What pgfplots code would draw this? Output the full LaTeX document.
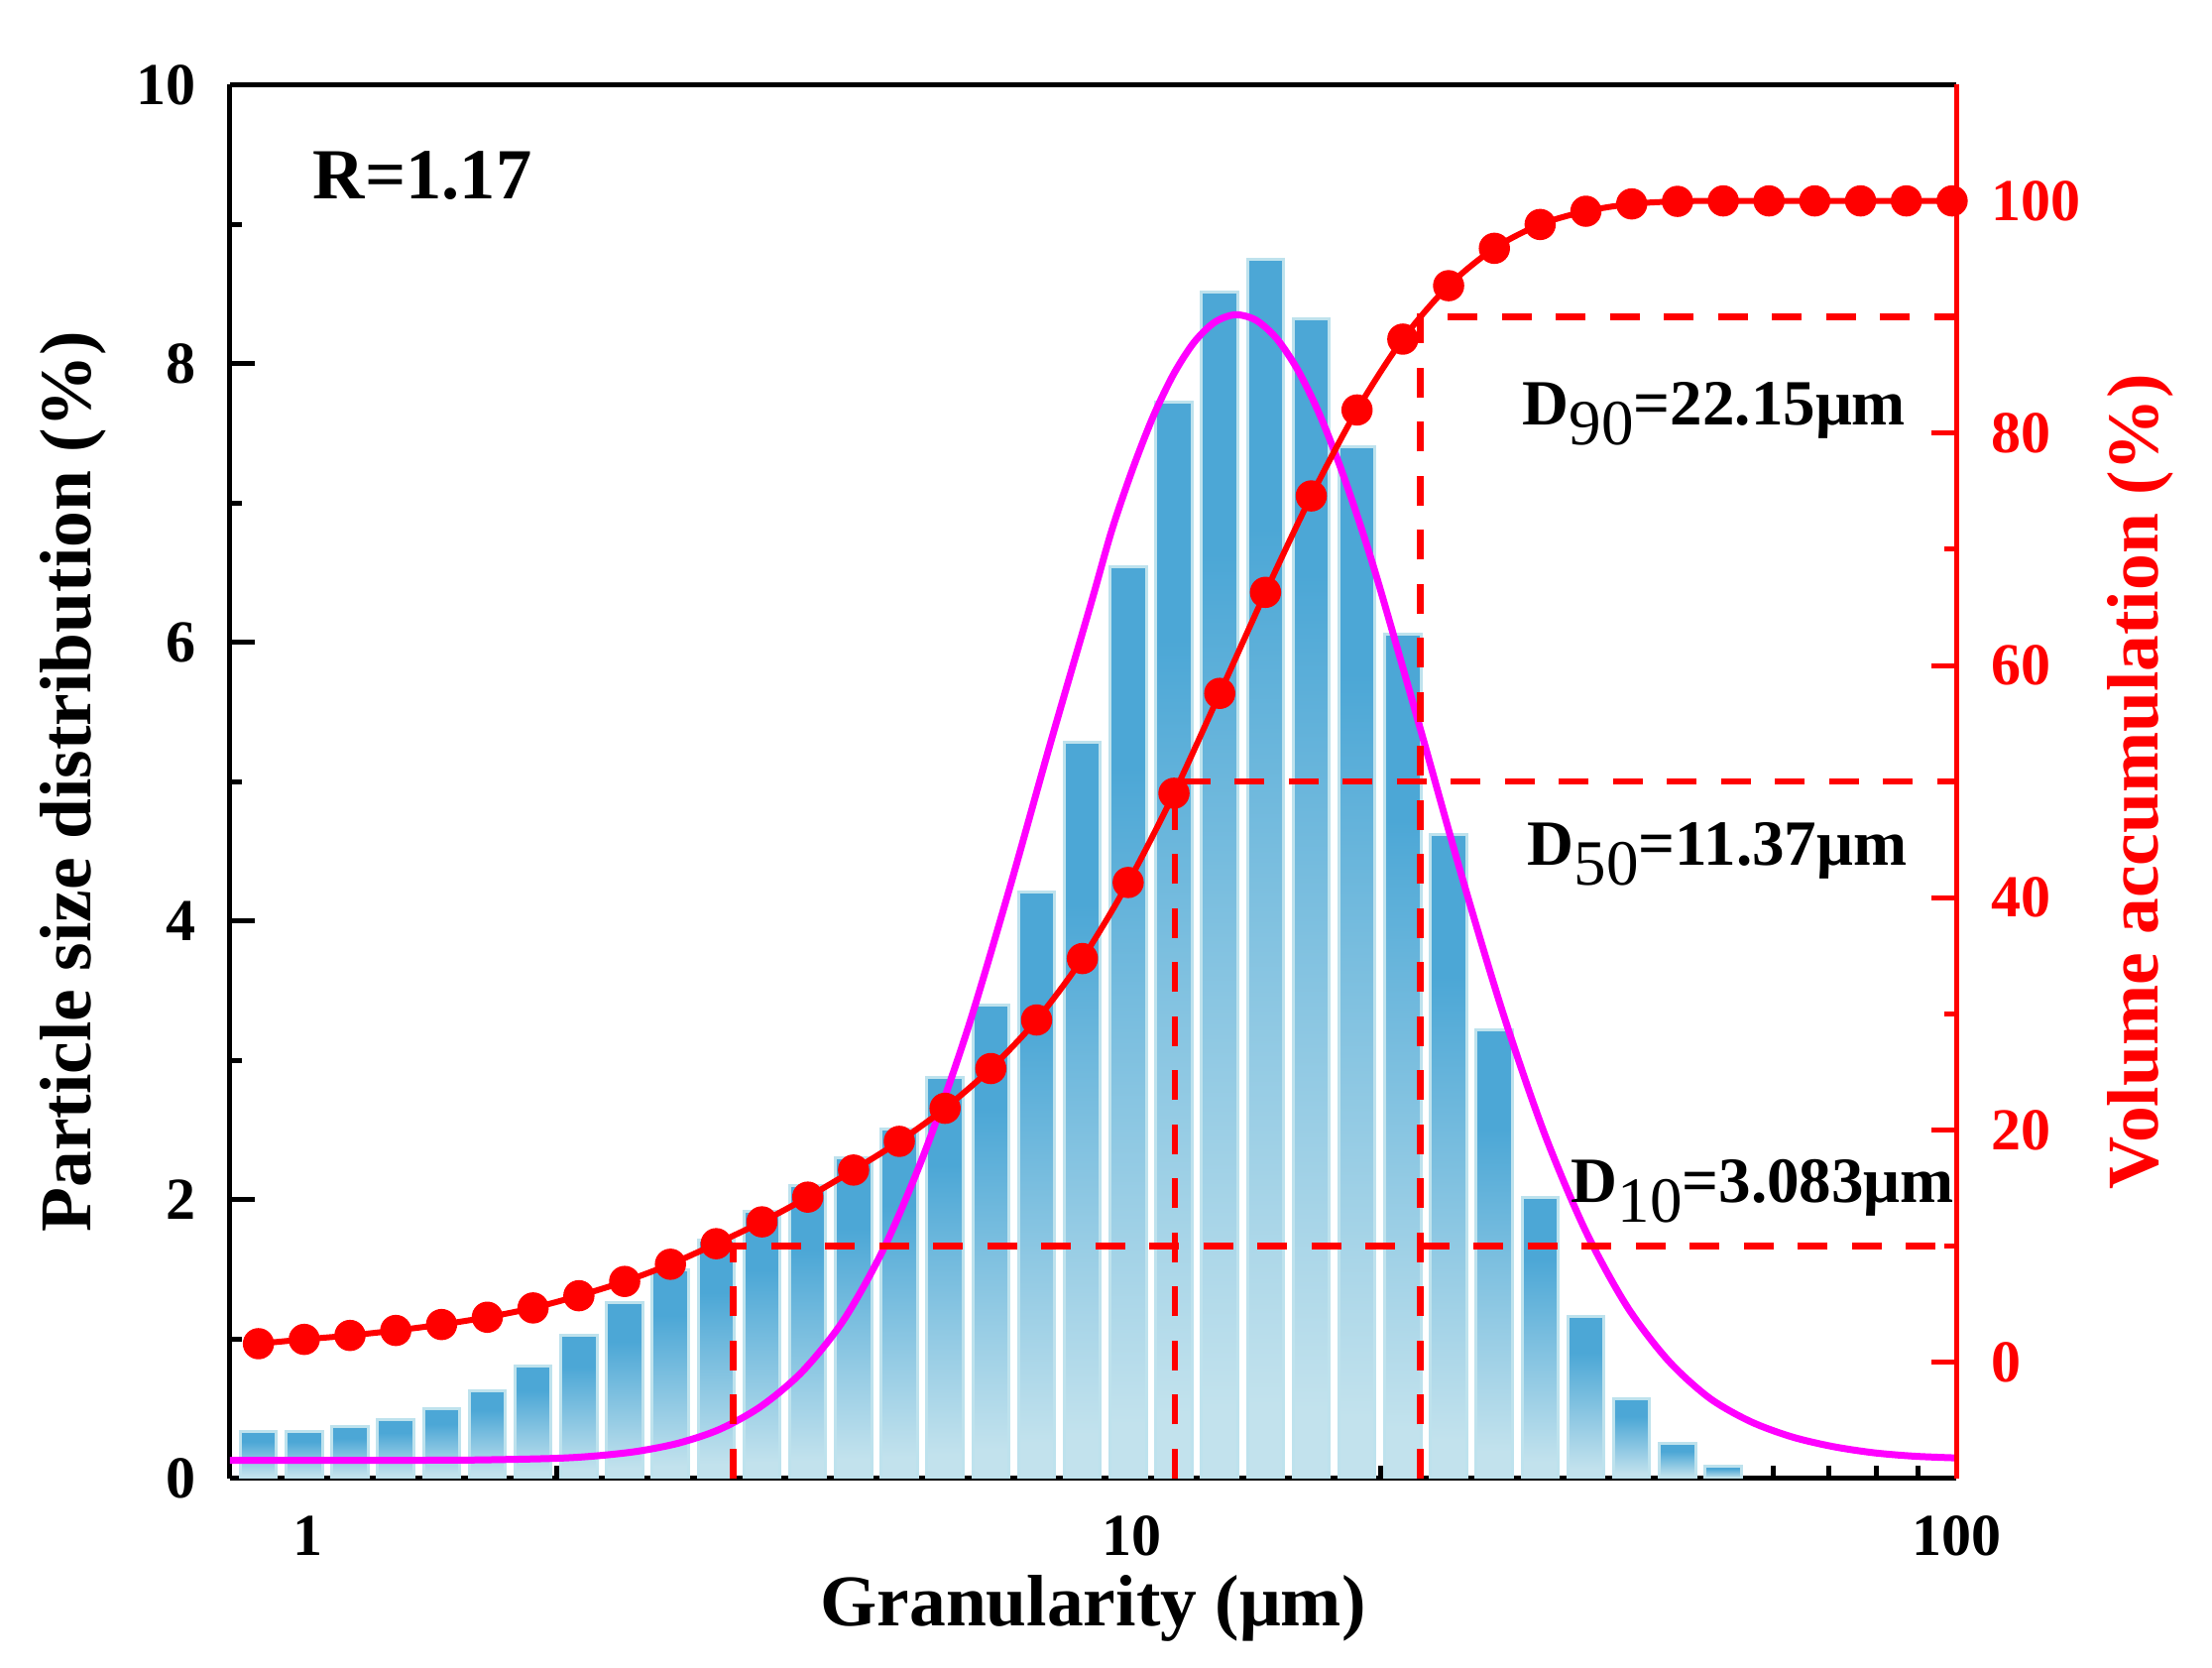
\documentclass[border=0pt]{standalone}
\usepackage{pgfplots}
\pgfplotsset{compat=1.18}
\usepackage{pgfplotstable}
\usepackage{fontspec}
\setmainfont{Liberation Serif}
\definecolor{barblue}{RGB}{76,167,214}
\definecolor{barlight}{RGB}{194,226,237}
\definecolor{barline}{RGB}{190,226,237}
\definecolor{magcurve}{RGB}{255,0,255}
\definecolor{cumred}{RGB}{255,0,0}
\pgfdeclareverticalshading{barshade}{100bp}{color(0bp)=(barlight); color(28bp)=(barlight); color(64bp)=(barblue); color(100bp)=(barblue)}

\pgfplotstableread{
x y
0.8700 0.34
0.9887 0.34
1.1236 0.37
1.2770 0.42
1.4512 0.50
1.6493 0.63
1.8744 0.81
2.1301 1.03
2.4208 1.26
2.7512 1.50
3.1266 1.71
3.5533 1.92
4.0382 2.10
4.5893 2.30
5.2155 2.51
5.9272 2.88
6.7361 3.40
7.6553 4.21
8.7000 5.28
9.8872 6.54
11.2365 7.72
12.770 8.51
14.512 8.75
16.493 8.32
18.744 7.40
21.301 6.06
24.208 4.62
27.512 3.22
31.266 2.02
35.533 1.16
40.382 0.57
45.893 0.25
52.155 0.09
}\bars

\pgfplotstableread{
x y
0.8700 1.61
0.9887 1.98
1.1236 2.32
1.2770 2.75
1.4512 3.26
1.6493 3.89
1.8744 4.69
2.1301 5.74
2.4208 6.97
2.7512 8.45
3.1266 10.22
3.5533 12.10
4.0382 14.23
4.5893 16.56
5.2155 19.03
5.9272 21.88
6.7361 25.30
7.6553 29.48
8.7000 34.77
9.8872 41.32
11.2365 49.00
12.770 57.60
14.512 66.30
16.493 74.60
18.744 82.00
21.301 88.10
24.208 92.70
27.512 95.92
31.266 97.97
35.533 99.11
40.382 99.74
45.893 99.96
52.155 100.0
59.272 100.0
67.361 100.0
76.553 100.0
87.000 100.0
98.872 100.0
}\cumul

\pgfplotstableread{
x y
0.8035 0.130
1.000 0.130
1.259 0.131
1.585 0.133
1.995 0.145
2.239 0.163
2.512 0.196
2.818 0.255
3.162 0.355
3.548 0.520
3.981 0.770
4.467 1.140
5.012 1.670
5.623 2.370
6.310 3.220
7.079 4.210
7.943 5.260
8.913 6.280
9.441 6.800
10.00 7.235
10.59 7.613
11.22 7.922
11.885 8.152
12.59 8.296
13.335 8.350
14.13 8.311
14.962 8.181
15.85 7.963
16.788 7.667
17.78 7.300
18.836 6.874
19.95 6.404
22.39 5.370
25.12 4.320
28.18 3.340
31.62 2.480
35.48 1.780
39.81 1.240
44.67 0.850
50.12 0.580
56.23 0.410
63.10 0.300
70.79 0.230
79.43 0.185
89.13 0.160
100.0 0.148
}\fitcurve

\begin{document}
\begin{tikzpicture}
\begin{axis}[name=ax, scale only axis, width=348.2pt, height=281.1pt,
  xmode=log, xmin=0.8035, xmax=100, ymin=0, ymax=10,
  axis x line*=box, axis y line*=left,
  x axis line style={-}, y axis line style={-},
  axis line style={line width=1pt, black},
  xtick={1,10,100}, xticklabels={1,10,100},
  minor xtick={0.9,2,3,4,5,6,7,8,9,20,30,40,50,60,70,80,90},
  ytick={0,2,4,6,8,10}, minor ytick={1,3,5,7,9},
  xtick pos=left, ytick pos=left,
  tick align=inside,
  major tick length=5pt, minor tick length=2.5pt,
  tick style={black, line width=1pt},
  tick label style={font=\bfseries\fontsize{12}{12}\selectfont},
  /pgf/number format/assume math mode=true,
  xticklabel style={inner sep=0pt, yshift=-7.4pt},
  yticklabel style={inner sep=0pt, xshift=-6.6pt},
  xlabel={Granularity (μm)},
  ylabel={Particle size distribution (\%)},
  label style={font=\bfseries\fontsize{14.7}{14.7}\selectfont},
  xlabel style={at={(rel axis cs:0.5,0)}, anchor=base, yshift=-29.8pt},
  ylabel style={at={([xshift=-28pt]rel axis cs:0,0.5)}, anchor=base},
]
\pgfplotsinvokeforeach{0,...,32}{
  \addplot[ybar, bar width=7.3pt, draw=barline, line width=0.6pt, shade, shading=barshade, forget plot]
    table[x=x,y=y, restrict expr to domain={\coordindex}{#1:#1}]{\bars};
}
\addplot[magcurve, line width=1.4pt, smooth, no marks] table[x=x,y=y]{\fitcurve};
\node[anchor=base west, inner sep=0pt, font=\bfseries\fontsize{14.5}{14.5}\selectfont] at (axis cs:1.011,9.185) {R=1.17};
\end{axis}
\begin{axis}[scale only axis, width=348.2pt, height=281.1pt,
  xmode=log, xmin=0.8035, xmax=100, ymin=-10, ymax=110,
  axis x line=none, axis y line*=right,
  y axis line style={-, cumred, line width=1pt},
  ytick={0,20,40,60,80,100}, minor ytick={10,30,50,70,90},
  tick align=inside,
  major tick length=5pt, minor tick length=2.5pt,
  tick style={cumred, line width=1pt},
  /pgf/number format/assume math mode=true,
  yticklabel style={cumred, font=\bfseries\fontsize{12}{12}\selectfont, inner sep=0pt, xshift=6.8pt},
  ylabel={Volume accumulation (\%)},
  ylabel style={cumred, font=\bfseries\fontsize{14.7}{14.7}\selectfont, at={([xshift=40.6pt]rel axis cs:1,0.5)}, anchor=base},
]
\addplot[cumred, line width=1.3pt, dash pattern=on 6pt off 4.9pt, no marks] coordinates {(3.28,-10) (3.28,10) (100,10)};
\addplot[cumred, line width=1.3pt, dash pattern=on 6pt off 4.9pt, no marks] coordinates {(11.27,-10) (11.27,50) (100,50)};
\addplot[cumred, line width=1.3pt, dash pattern=on 6pt off 4.9pt, no marks] coordinates {(22.36,-10) (22.36,90) (100,90)};
\addplot[cumred, line width=1.2pt, smooth, mark=*, mark size=2.9pt, mark options={solid, fill=cumred, draw=cumred, line width=0.5pt}] table[x=x,y=y]{\cumul};
\node[anchor=base west, inner sep=0pt, font=\bfseries\fontsize{13}{13}\selectfont] at (axis cs:29.7,80.7) {D\raisebox{-4pt}{\mdseries 90}=22.15μm};
\node[anchor=base west, inner sep=0pt, font=\bfseries\fontsize{13}{13}\selectfont] at (axis cs:30.1,42.8) {D\raisebox{-4pt}{\mdseries 50}=11.37μm};
\node[anchor=base west, inner sep=0pt, font=\bfseries\fontsize{13}{13}\selectfont] at (axis cs:34.0,13.8) {D\raisebox{-4pt}{\mdseries 10}=3.083μm};
\end{axis}
\pgfresetboundingbox
\path ([xshift=-46.4pt,yshift=-38.2pt]ax.south west) rectangle ([xshift=51.6pt,yshift=17.1pt]ax.north east);
\end{tikzpicture}
\end{document}
